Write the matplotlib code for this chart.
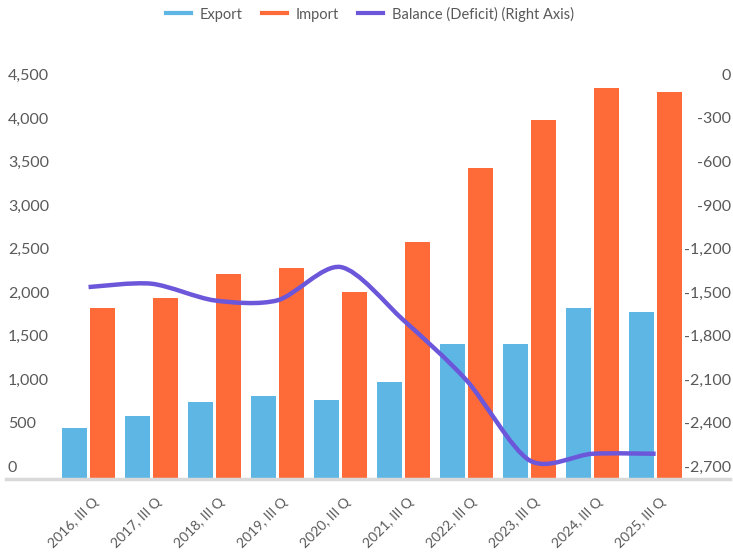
import numpy as np
import matplotlib
matplotlib.use('Agg')
import matplotlib.pyplot as plt
import matplotlib.transforms as mtransforms
from matplotlib.path import Path
from matplotlib.patches import PathPatch
from matplotlib.lines import Line2D

plt.rcParams['font.family'] = ['Lato', 'DejaVu Sans']

# data
quarters = ['2016, III Q', '2017, III Q', '2018, III Q', '2019, III Q', '2020, III Q',
            '2021, III Q', '2022, III Q', '2023, III Q', '2024, III Q', '2025, III Q']
export = [585, 723, 884, 953, 907, 1114, 1550, 1550, 1963, 1917]
imports = [1963, 2078, 2354, 2422, 2147, 2721, 3571, 4122, 4489, 4443]
balance = [-1378, -1355, -1470, -1469, -1240, -1607, -2021, -2572, -2526, -2526]
left_ticks = [0, 500, 1000, 1500, 2000, 2500, 3000, 3500, 4000, 4500]
right_ticks = [0, -300, -600, -900, -1200, -1500, -1800, -2100, -2400, -2700]

c_exp = '#5EB6E4'
c_imp = '#FF6A39'
c_bal = '#6C56DA'
c_txt = '#595959'

fig = plt.figure(figsize=(7.33, 5.54), dpi=100)
W, H = 733, 554
ax = fig.add_axes([6 / W, 1 - 479 / H, 724 / W, 392 / H])
ax2 = ax.twinx()

x = np.arange(len(quarters))
bw = 25 / 63
ax.bar(x - 14 / 63, export, bw, color=c_exp, zorder=2)
ax.bar(x + 14 / 63, imports, bw, color=c_imp, zorder=2)
ax.set_xlim(-1.31, 10.18)
ax.set_ylim(0, 4500)
ax2.set_ylim(-2700, 0)

# smoothed balance line (bezier through the points)
pts = np.column_stack([x, balance]).astype(float)
verts = [pts[0]]
codes = [Path.MOVETO]
for i in range(len(pts) - 1):
    p0 = pts[max(i - 1, 0)]
    p1 = pts[i]
    p2 = pts[i + 1]
    p3 = pts[min(i + 2, len(pts) - 1)]
    verts += [p1 + (p2 - p0) / 7, p2 - (p3 - p1) / 7, p2]
    codes += [Path.CURVE4] * 3
ax2.add_patch(PathPatch(Path(verts, codes), fill=False, edgecolor=c_bal, lw=3.2,
                        capstyle='butt', zorder=3))

for a in (ax, ax2):
    for s in a.spines.values():
        s.set_visible(False)
    a.set_yticks([])
ax.spines['bottom'].set_visible(True)
ax.spines['bottom'].set_color('#d9d9d9')
ax.spines['bottom'].set_linewidth(2.5)

# y labels sit inside the plot, a bit above their value
off = mtransforms.ScaledTranslation(0, 8 / 72, fig.dpi_scale_trans)
lt = mtransforms.blended_transform_factory(fig.transFigure, ax.transData) + off
rt = mtransforms.blended_transform_factory(fig.transFigure, ax2.transData) + off
for v in left_ticks:
    ax.text(8 / W, v, f'{v:,}', transform=lt, ha='left', va='center', fontsize=11.5, color=c_txt)
for v in right_ticks:
    ax2.text(731 / W, v, f'{v:,}', transform=rt, ha='right', va='center', fontsize=11.5, color=c_txt)

ax.set_xticks(x)
ax.set_xticklabels(quarters, rotation=45, ha='right', va='center', rotation_mode='anchor',
                   fontsize=10, color=c_txt)
ax.tick_params(axis='x', length=0, pad=15)
shift = mtransforms.ScaledTranslation(5.4 / 72, 0, fig.dpi_scale_trans)
for lab in ax.get_xticklabels():
    lab.set_transform(lab.get_transform() + shift)

handles = [Line2D([], [], color=c_exp, lw=3),
           Line2D([], [], color=c_imp, lw=3),
           Line2D([], [], color=c_bal, lw=3)]
fig.legend(handles, ['Export', 'Import', 'Balance (Deficit) (Right Axis)'],
           loc='center', bbox_to_anchor=(370 / W, 1 - 14 / H), ncol=3, frameon=False,
           fontsize=10.5, labelcolor=c_txt, handlelength=1.7, handletextpad=0.62,
           columnspacing=1.3)

fig.savefig('out.png', dpi=100)
